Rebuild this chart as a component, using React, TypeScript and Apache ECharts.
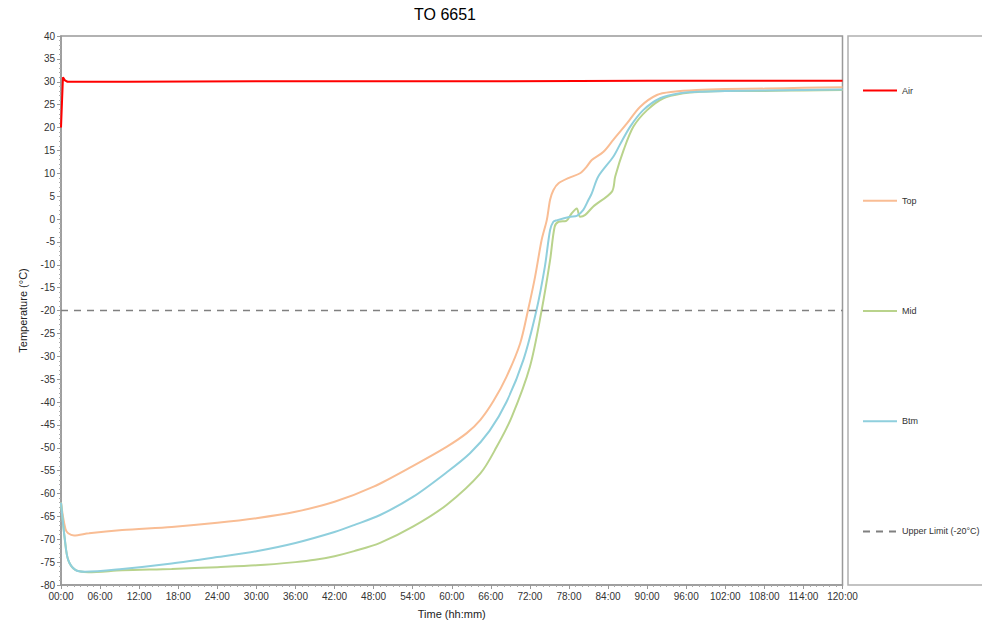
import React, { useEffect, useRef } from "react";
import * as echarts from "echarts";

const title = "TO 6651";
const seriesNames = ["Air", "Top", "Mid", "Btm", "Upper Limit (-20°C)"];

const airTimes = [0, 0.3, 0.6, 1, 10, 30, 60, 90, 120];
const airValues = [20, 31, 30.3, 30, 30, 30.1, 30.1, 30.2, 30.2];

const topTimes = [0, 0.3, 0.7, 1.1, 2, 4.3, 9.4, 17, 24, 30, 36, 42, 48, 54, 59.2, 62.3, 64.4, 66.4, 68.4, 70.5, 71.7, 72.8, 73.8, 74.6, 75.1, 75.6, 76.4, 78, 79.7, 80.7, 81.5, 83.3, 84.8, 86.9, 88.9, 91.5, 94, 97.6, 102, 108, 114, 120];
const topValues = [-62, -65, -67.8, -68.7, -69.2, -68.7, -68, -67.3, -66.4, -65.4, -64, -61.8, -58.5, -54, -49.8, -46.8, -43.9, -39.8, -34.5, -27.2, -20, -12.6, -4.6, -0.2, 4.2, 6.3, 7.8, 9, 10, 11.4, 12.9, 14.7, 17.3, 20.9, 24.5, 27.1, 27.8, 28.2, 28.4, 28.5, 28.7, 28.8];

const midTimes = [0, 0.6, 1.1, 2.2, 4.2, 9.4, 17, 24, 30, 36, 39, 42, 45, 49, 54.1, 59.2, 64.4, 66.9, 69.2, 72, 73.8, 75.1, 75.8, 76.4, 77.6, 78.4, 79.2, 79.7, 80.5, 81.7, 84.6, 85.1, 86.4, 87.9, 90, 92.5, 95.6, 98, 102, 108, 114, 120];
const midValues = [-62, -70.2, -74.5, -76.7, -77.2, -76.8, -76.5, -76.1, -75.7, -75, -74.5, -73.7, -72.6, -70.8, -67.2, -62.5, -55.6, -49.8, -43.3, -32.3, -20, -9, -1.7, -0.6, -0.4, 1.2, 2.3, 0.5, 0.9, 2.7, 6, 9.3, 15.1, 20.2, 23.8, 26.4, 27.5, 27.8, 28, 28, 28.1, 28.2];

const btmTimes = [0, 0.6, 1.1, 2.2, 3.7, 9.4, 17, 24, 30, 36, 42, 45, 49, 54.1, 59.2, 62.8, 65.8, 68.4, 71, 73, 74.3, 75.1, 75.6, 76.1, 78.2, 79.2, 80.2, 81, 81.5, 82.5, 84.8, 85.8, 87.4, 89.4, 92, 95, 97.6, 102, 108, 114, 120];
const btmValues = [-62, -70.2, -74.5, -76.7, -77.1, -76.5, -75.3, -73.9, -72.6, -70.8, -68.4, -66.9, -64.7, -60.7, -55.4, -51.2, -46.3, -40, -30.8, -20, -10.4, -2.4, -0.6, -0.3, 0.5, 0.7, 2, 4.2, 5.6, 9.3, 13.6, 16.2, 20.2, 23.8, 26.4, 27.5, 27.8, 28, 28.1, 28.2, 28.3];

const limitTimes = [0, 120];
const limitValues = [-20, -20];

const colors = ["#ff0000", "#f9bd94", "#b9d38c", "#8fcfdd", "#808080"];

const pair = (t: number[], v: number[]) => t.map((x, i) => [x, v[i]]);

export default function App() {
  const ref = useRef<HTMLDivElement>(null);
  useEffect(() => {
    if (!ref.current) return;
    const chart = echarts.init(ref.current, undefined, { renderer: "svg" });
    const font = "Liberation Sans, Arial, sans-serif";
    const dataSets = [
      pair(airTimes, airValues),
      pair(topTimes, topValues),
      pair(midTimes, midValues),
      pair(btmTimes, btmValues),
      pair(limitTimes, limitValues),
    ];
    chart.setOption({
      animation: false,
      textStyle: { fontFamily: font },
      title: {
        text: title,
        left: 440,
        textAlign: "center",
        top: 1,
        textStyle: { fontSize: 16, fontWeight: "normal", color: "#000", fontFamily: font },
      },
      grid: {
        left: 61,
        right: 139.5,
        top: 36,
        bottom: 41,
        show: true,
        borderColor: "#999",
        borderWidth: 1.5,
      },
      graphic: [
        {
          type: "rect",
          shape: { x: 848, y: 36, width: 150, height: 549 },
          style: { fill: "none", stroke: "#b0b0b0", lineWidth: 1.5 },
          silent: true,
        },
      ],
      legend: {
        orient: "vertical",
        left: 862,
        top: 85,
        padding: 0,
        itemWidth: 34,
        itemHeight: 14,
        itemGap: 99,
        itemStyle: { opacity: 0 },
        textStyle: { fontSize: 9, color: "#333", fontFamily: font },
        data: seriesNames,
      },
      xAxis: {
        type: "value",
        min: 0,
        max: 120,
        interval: 6,
        name: "Time (hh:mm)",
        nameLocation: "middle",
        nameGap: 23,
        nameTextStyle: { fontSize: 11, color: "#222", fontFamily: font },
        axisLine: { onZero: false, lineStyle: { color: "#999", width: 1.5 } },
        axisTick: { show: true, length: 4, lineStyle: { color: "#999" } },
        minorTick: { show: true, splitNumber: 6, length: 2, lineStyle: { color: "#aaa" } },
        splitLine: { show: false },
        axisLabel: {
          fontSize: 10,
          color: "#333",
          margin: 6,
          formatter: (v: number) => String(v).padStart(2, "0") + ":00",
        },
      },
      yAxis: {
        type: "value",
        min: -80,
        max: 40,
        interval: 5,
        name: "Temperature (°C)",
        nameLocation: "middle",
        nameRotate: 90,
        nameGap: 33,
        nameTextStyle: { fontSize: 11, color: "#222", fontFamily: font },
        axisLine: { show: true, onZero: false, lineStyle: { color: "#999", width: 1.5 } },
        axisTick: { show: true, length: 4, lineStyle: { color: "#999" } },
        minorTick: { show: true, splitNumber: 5, length: 2, lineStyle: { color: "#aaa" } },
        splitLine: { show: false },
        axisLabel: { fontSize: 10, color: "#333", margin: 6 },
      },
      series: seriesNames.map((name, i) => ({
        name,
        type: "line",
        data: dataSets[i],
        symbol: "none",
        showSymbol: false,
        smooth: i === 0 || i === 4 ? false : 0.3,
        color: colors[i],
        lineStyle:
          i === 4
            ? { color: colors[i], width: 1.5, type: [7, 6] }
            : { color: colors[i], width: 2 },
        z: i === 0 ? 5 : 3,
      })),
    });
    return () => chart.dispose();
  }, []);
  return (
    <div
      ref={ref}
      style={{ position: "fixed", left: 0, top: 0, width: 982, height: 626, background: "#fff" }}
    />
  );
}
